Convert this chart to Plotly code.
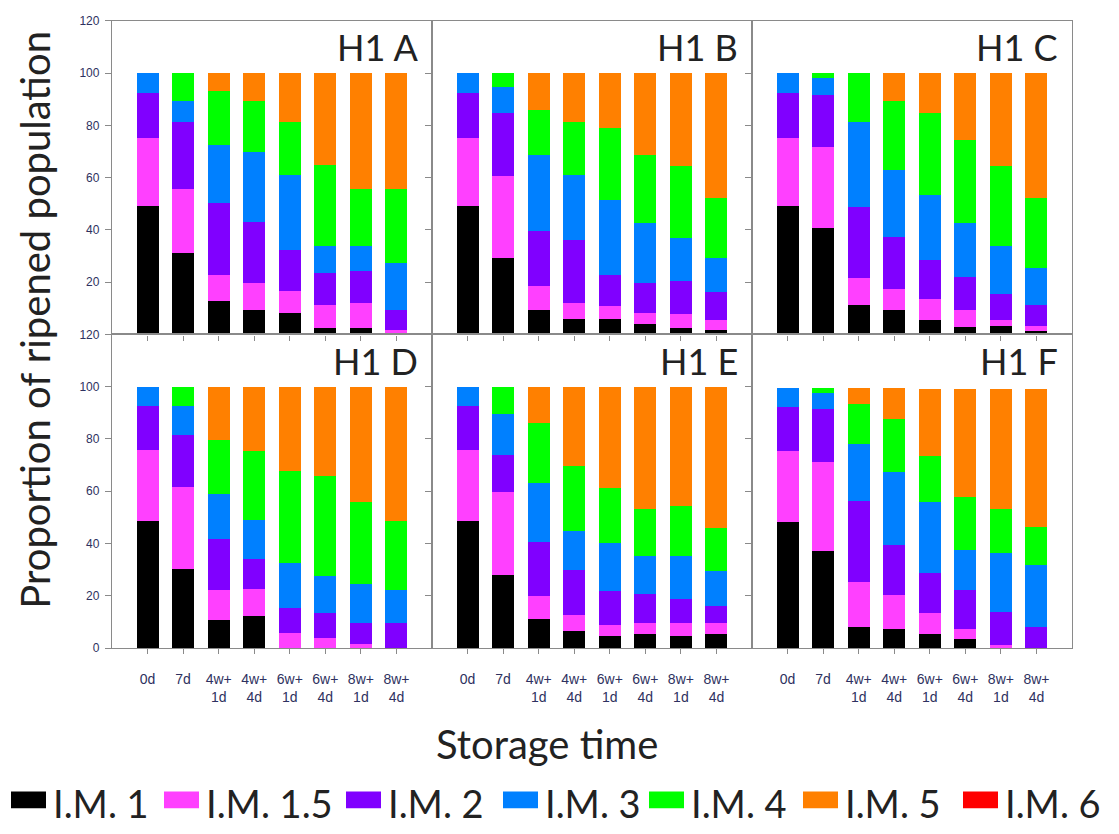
import plotly.graph_objects as go

# ---- data -----------------------------------------------------------------
storage_time = ["0d", "7d", "4w+<br>1d", "4w+<br>4d", "6w+<br>1d",
                "6w+<br>4d", "8w+<br>1d", "8w+<br>4d"]
panel_names = ["H1 A", "H1 B", "H1 C", "H1 D", "H1 E", "H1 F"]
series_names = ["I.M. 1", "I.M. 1.5", "I.M. 2", "I.M. 3", "I.M. 4", "I.M. 5", "I.M. 6"]

# one row per panel (A..F), one value per storage time
im_1 = [
    [49.0, 31.3, 12.7, 9.3, 8.3, 2.6, 2.6, 0.0],
    [49.0, 29.4, 9.3, 5.9, 5.9, 4.0, 2.6, 1.5],
    [49.0, 40.6, 11.2, 9.2, 5.5, 3.0, 3.3, 1.4],
    [48.7, 30.3, 10.8, 12.1, 0.0, 0.0, 0.0, 0.0],
    [48.7, 27.8, 11.1, 6.7, 4.5, 5.4, 4.5, 5.4],
    [48.3, 37.1, 8.1, 7.2, 5.3, 3.4, 0.0, 0.0],
]
im_1_5 = [
    [26.0, 24.5, 10.1, 10.3, 8.2, 8.6, 9.5, 1.6],
    [26.0, 31.1, 9.3, 6.2, 4.9, 4.3, 5.3, 4.0],
    [26.0, 31.0, 10.3, 8.3, 8.2, 6.3, 2.2, 1.9],
    [27.1, 31.4, 11.6, 10.4, 5.8, 3.9, 1.4, 0.0],
    [27.1, 32.0, 8.7, 5.9, 4.4, 4.1, 5.0, 4.1],
    [27.2, 34.0, 17.3, 13.1, 8.2, 3.8, 1.3, 0.0],
]
im_2 = [
    [17.5, 25.6, 27.6, 23.4, 15.8, 12.2, 12.2, 7.6],
    [17.5, 24.3, 21.1, 24.0, 12.0, 11.3, 12.4, 10.7],
    [17.5, 20.1, 27.2, 19.9, 14.9, 12.6, 9.8, 7.9],
    [16.9, 20.0, 19.2, 11.5, 9.7, 9.7, 8.1, 9.5],
    [16.9, 14.1, 20.9, 17.3, 13.0, 11.0, 9.2, 6.7],
    [16.8, 20.3, 30.8, 19.2, 15.1, 15.1, 12.5, 8.1],
]
im_3 = [
    [7.5, 7.8, 22.1, 26.7, 28.8, 10.3, 9.4, 18.2],
    [7.5, 9.7, 29.0, 24.7, 28.6, 22.9, 16.4, 12.9],
    [7.5, 6.3, 32.7, 25.4, 24.7, 20.7, 18.4, 14.1],
    [7.3, 10.8, 17.3, 15.0, 17.0, 13.9, 15.1, 12.9],
    [7.3, 15.8, 22.5, 14.8, 18.2, 14.8, 16.6, 13.1],
    [7.3, 6.0, 22.0, 28.0, 27.2, 15.3, 22.7, 23.8],
]
im_4 = [
    [0.0, 10.8, 20.7, 19.7, 20.3, 31.0, 22.0, 28.3],
    [0.0, 5.5, 17.3, 20.6, 27.7, 26.3, 27.6, 23.2],
    [0.0, 2.0, 18.6, 26.6, 31.5, 31.9, 30.6, 27.0],
    [0.0, 7.5, 20.7, 26.3, 35.2, 38.2, 31.2, 26.3],
    [0.0, 10.3, 23.0, 24.9, 21.0, 18.0, 19.2, 16.7],
    [0.0, 2.2, 15.0, 20.2, 17.8, 20.1, 16.6, 14.3],
]
im_5 = [
    [0.0, 0.0, 6.8, 10.6, 18.6, 35.3, 44.3, 44.3],
    [0.0, 0.0, 14.0, 18.6, 20.9, 31.2, 35.7, 47.7],
    [0.0, 0.0, 0.0, 10.6, 15.2, 25.5, 35.7, 47.7],
    [0.0, 0.0, 20.4, 24.7, 32.3, 34.3, 44.2, 51.3],
    [0.0, 0.0, 13.8, 30.4, 38.9, 46.7, 45.5, 54.0],
    [0.0, 0.0, 6.4, 11.9, 25.4, 41.3, 45.9, 52.8],
]
im_6 = [
    [0.0] * 8, [0.0] * 8, [0.0] * 8,
    [0.0] * 8, [0.0] * 8, [0.0] * 8,
]
y_ticks = [0, 20, 40, 60, 80, 100, 120]

# ---- styling ----------------------------------------------------------------
series_values = [im_1, im_1_5, im_2, im_3, im_4, im_5, im_6]
series_colors = ["#000000", "#FF40FF", "#8000FF", "#0080FF", "#00FF00", "#FF8000", "#FF0000"]

W, H = 1119, 834
col_px = [(112, 432), (432, 752), (752, 1072)]
row_px = [(14, 333), (333, 652)]          # (top, bottom) in pixels
AXIS_COLOR = "#8a8a8a"
TICK_FONT = dict(family="Arial", size=12, color="#2E3160")
TEXT_FONT = "Lato"


def px_x(x):
    return x / W


def px_y(y):
    return 1 - y / H


fig = go.Figure()
layout_axes = {}

for p, name in enumerate(panel_names):
    r, c = divmod(p, 3)
    idx = p + 1
    xa = "x" if idx == 1 else f"x{idx}"
    ya = "y" if idx == 1 else f"y{idx}"
    for s, sname in enumerate(series_names):
        fig.add_trace(go.Bar(
            x=storage_time, y=series_values[s][p], name=sname,
            marker=dict(color=series_colors[s], line=dict(width=0)),
            xaxis=xa, yaxis=ya, showlegend=False,
        ))

    x0, x1 = col_px[c]
    top, bot = row_px[r]
    xkey = "xaxis" if idx == 1 else f"xaxis{idx}"
    ykey = "yaxis" if idx == 1 else f"yaxis{idx}"
    layout_axes[xkey] = dict(
        domain=[px_x(x0), px_x(x1)], anchor=ya, type="category",
        categoryorder="array", categoryarray=storage_time,
        range=[-1, 8], showgrid=False, zeroline=False,
        showline=True, linecolor=AXIS_COLOR, linewidth=1.3, mirror=True,
        ticks="outside", ticklen=5, tickcolor=AXIS_COLOR, tickwidth=1,
        showticklabels=(r == 1), tickfont=dict(family="Arial", size=14, color="#2E3160"),
        ticklabelstandoff=13,
    )
    if c == 0:
        ticktext = [str(v) for v in y_ticks]
        if r == 0:
            ticktext[0] = ""
    else:
        ticktext = [""] * len(y_ticks)
    layout_axes[ykey] = dict(
        domain=[px_y(bot), px_y(top)], anchor=xa, range=[0, 120],
        tickvals=y_ticks, ticktext=ticktext, showgrid=False, zeroline=False,
        showline=True, linecolor=AXIS_COLOR, linewidth=1.3, mirror=True,
        ticks="outside", ticklen=6, tickcolor=AXIS_COLOR, tickwidth=1,
        tickfont=TICK_FONT, ticklabelstandoff=3,
    )

annotations = []
for p, name in enumerate(panel_names):
    r, c = divmod(p, 3)
    x0, x1 = col_px[c]
    top, bot = row_px[r]
    annotations.append(dict(
        text=name, xref="paper", yref="paper", x=px_x(x1 - 12), y=px_y(top + 27),
        xanchor="right", yanchor="middle", showarrow=False,
        font=dict(family=TEXT_FONT, size=36, color="#222222"),
    ))

# axis titles
annotations.append(dict(
    text="Proportion of ripened population", xref="paper", yref="paper",
    x=px_x(35), y=px_y(318), textangle=-90, showarrow=False,
    xanchor="center", yanchor="middle",
    font=dict(family=TEXT_FONT, size=40, color="#222222"),
))
annotations.append(dict(
    text="Storage time", xref="paper", yref="paper",
    x=px_x(547), y=px_y(750), showarrow=False,
    xanchor="center", yanchor="middle",
    font=dict(family=TEXT_FONT, size=40, color="#222222"),
))

# legend row
shapes = []
legend_x = [11, 164, 346, 503, 649, 803, 963]
for s, sname in enumerate(series_names):
    lx = legend_x[s]
    shapes.append(dict(
        type="rect", xref="paper", yref="paper",
        x0=px_x(lx), x1=px_x(lx + 35), y0=px_y(815), y1=px_y(798),
        fillcolor=series_colors[s], line=dict(width=0),
    ))
    annotations.append(dict(
        text=sname, xref="paper", yref="paper",
        x=px_x(lx + 40), y=px_y(810), xanchor="left", yanchor="middle",
        showarrow=False, font=dict(family=TEXT_FONT, size=38, color="#222222"),
    ))

fig.update_layout(
    width=W, height=H, margin=dict(l=0, r=0, t=0, b=0),
    paper_bgcolor="white", plot_bgcolor="white",
    barmode="stack", bargap=0.38, showlegend=False,
    annotations=annotations, shapes=shapes, **layout_axes,
)

fig.write_html("out.html")
